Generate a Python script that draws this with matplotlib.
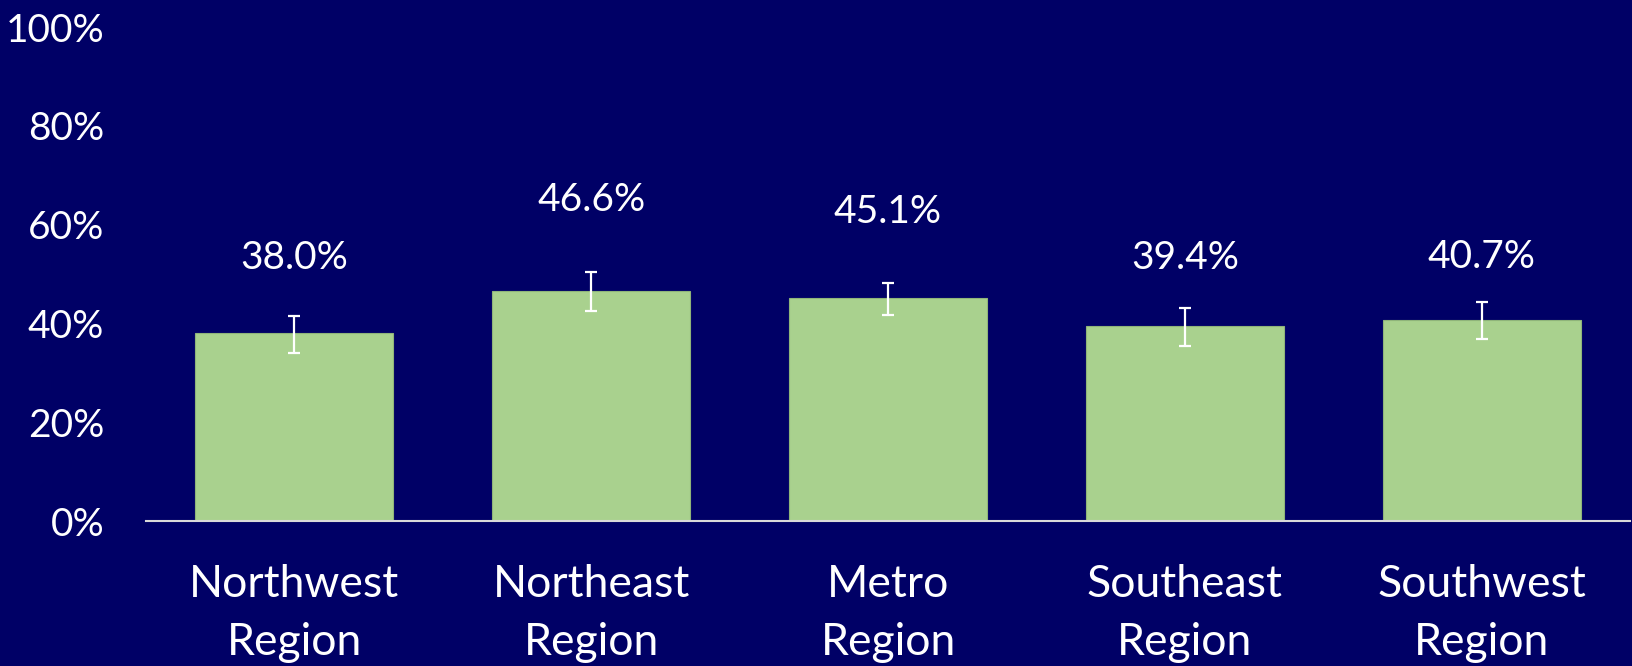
import matplotlib
matplotlib.use("Agg")
import matplotlib.pyplot as plt
import numpy as np

# Chart data
regions = ["Northwest\nRegion", "Northeast\nRegion", "Metro\nRegion",
           "Southeast\nRegion", "Southwest\nRegion"]
values = [38.0, 46.6, 45.1, 39.4, 40.7]
err_low = [3.9, 4.0, 3.3, 3.9, 3.9]
err_high = [3.6, 3.8, 3.1, 3.8, 3.6]
label_y = [53.2, 65.0, 62.6, 53.2, 53.5]
yticks = [0, 20, 40, 60, 80, 100]

bg = "#000066"
bar_color = "#A9D18E"
txt = "white"

plt.rcParams['font.family'] = ['Lato', 'DejaVu Sans']

fig = plt.figure(figsize=(16.33, 6.66), dpi=100, facecolor=bg)
ax = fig.add_axes([0.0894, 0.2177, 0.9088, 0.7417], facecolor=bg)

x = np.arange(len(regions))
ax.bar(x, values, width=0.667, color=bar_color, edgecolor="#8FB47A",
       linewidth=0.8, zorder=2)
ax.errorbar(x, values, yerr=[err_low, err_high], fmt="none", ecolor="white",
            elinewidth=1.6, capsize=4.3, capthick=1.6, zorder=3)

for xi, v, ly in zip(x, values, label_y):
    ax.text(xi, ly, f"{v:.1f}%", ha="center", va="center", color=txt,
            fontsize=28)

ax.set_xlim(-0.5, len(regions) - 0.5)
ax.set_ylim(0, 100)
ax.set_yticks(yticks)
ax.set_yticklabels([f"{t}%" for t in yticks])
ax.set_xticks(x)
ax.set_xticklabels(regions, linespacing=1.5)

ax.tick_params(axis="y", length=0, pad=30, labelsize=28, labelcolor=txt)
ax.tick_params(axis="x", length=0, pad=31, labelsize=32, labelcolor=txt)

for side in ["left", "right", "top"]:
    ax.spines[side].set_visible(False)
ax.spines["bottom"].set_color("#D9D9D9")
ax.spines["bottom"].set_linewidth(1.5)

fig.savefig("out.png", dpi=100, facecolor=bg)
